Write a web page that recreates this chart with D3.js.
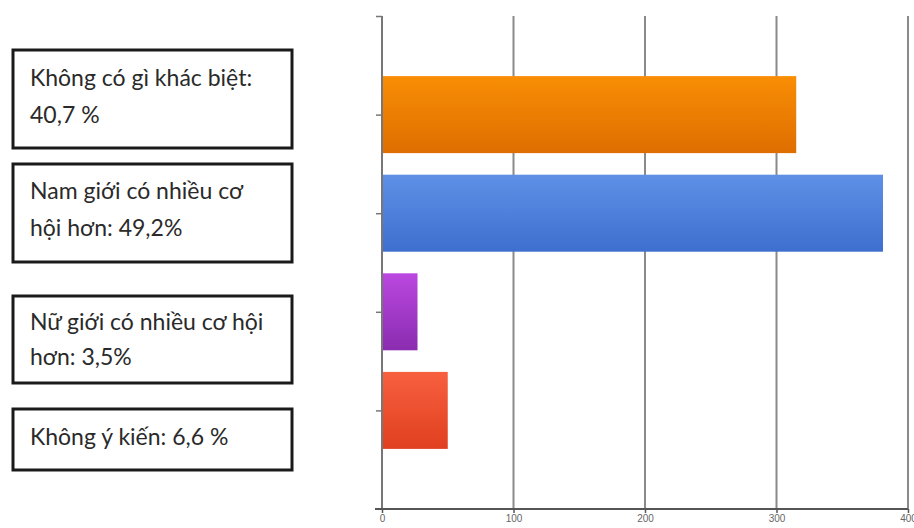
<!DOCTYPE html>
<html><head><meta charset="utf-8">
<script src="https://cdn.jsdelivr.net/npm/d3@7"></script>
<style>body{margin:0;background:#fff}svg{display:block}</style>
</head><body><svg id="c" width="914" height="528"></svg>
<script>
const categories = ["Không có gì khác biệt", "Nam giới có nhiều cơ hội hơn", "Nữ giới có nhiều cơ hội hơn", "Không ý kiến"];
const values = [315, 381, 27, 50];
const colors = [["#f98e05","#de6e00"],["#5f90e6","#3e6fcf"],["#bb48e0","#8a2cb0"],["#f7603f","#e0401f"]];
const xTicks = [0, 100, 200, 300, 400];
const labelLines = [["Không có gì khác biệt:", "40,7 %"], ["Nam giới có nhiều cơ", "hội hơn: 49,2%"], ["Nữ giới có nhiều cơ hội", "hơn: 3,5%"], ["Không ý kiến: 6,6 %"]];

const svg = d3.select("#c");
const x = d3.scaleLinear().domain([0, 400]).range([382, 908]);
const yDomain = ["_top", ...categories, "_bot"];
const y = d3.scalePoint().domain(yDomain).range([16, 509]);
const barH = 77;

const defs = svg.append("defs");
colors.forEach((c, i) => {
  const g = defs.append("linearGradient").attr("id", "g" + i).attr("x1", 0).attr("y1", 0).attr("x2", 0).attr("y2", 1);
  g.append("stop").attr("offset", 0).attr("stop-color", c[0]);
  g.append("stop").attr("offset", 1).attr("stop-color", c[1]);
});

// gridlines
svg.append("g").selectAll("line").data(xTicks.slice(1)).join("line")
  .attr("x1", d => x(d)).attr("x2", d => x(d)).attr("y1", 16).attr("y2", 509)
  .attr("stroke", "#8a8a8a").attr("stroke-width", 2);

// bars
svg.append("g").selectAll("rect").data(values).join("rect")
  .attr("x", x(0)).attr("y", (d, i) => y(categories[i]) - barH / 2)
  .attr("width", d => x(d) - x(0)).attr("height", barH)
  .attr("fill", (d, i) => `url(#g${i})`);

// y axis
const ya = svg.append("g").attr("transform", `translate(${x(0)},0)`)
  .call(d3.axisLeft(y).tickSize(6).tickFormat(""));
ya.select(".domain").attr("stroke", "#777").attr("stroke-width", 2).attr("d", `M0,16V509`);
ya.selectAll(".tick line").attr("stroke", "#777").attr("stroke-width", 1.5);
ya.selectAll(".tick").filter(d => d === "_bot").remove();

// x axis
const xa = svg.append("g").attr("transform", "translate(0,509)")
  .call(d3.axisBottom(x).tickValues(xTicks).tickSize(4).tickFormat(d3.format("d")));
xa.select(".domain").attr("stroke", "#555").attr("stroke-width", 2).attr("d", `M375,0H908`);
xa.selectAll(".tick line").attr("stroke", "#555").attr("stroke-width", 1.5);
xa.selectAll(".tick text").attr("fill", "#666").attr("font-size", 10).attr("font-family", "Liberation Sans, sans-serif").attr("dy", "0.55em");

// label boxes
const boxes = [[50, 148], [164, 262], [296, 383], [409, 470]];
const baselines = [[86, 123], [199, 236], [330, 365], [445]];
const lb = svg.append("g");
boxes.forEach((b, i) => {
  lb.append("rect").attr("x", 13).attr("y", b[0]).attr("width", 279).attr("height", b[1] - b[0])
    .attr("fill", "#fff").attr("stroke", "#1a1a1a").attr("stroke-width", 3);
  labelLines[i].forEach((t, j) => {
    lb.append("text").attr("x", 30).attr("y", baselines[i][j]).text(t)
      .attr("font-family", "Lato, sans-serif").attr("font-size", 23).attr("fill", "#2a2a2a");
  });
});
</script></body></html>
